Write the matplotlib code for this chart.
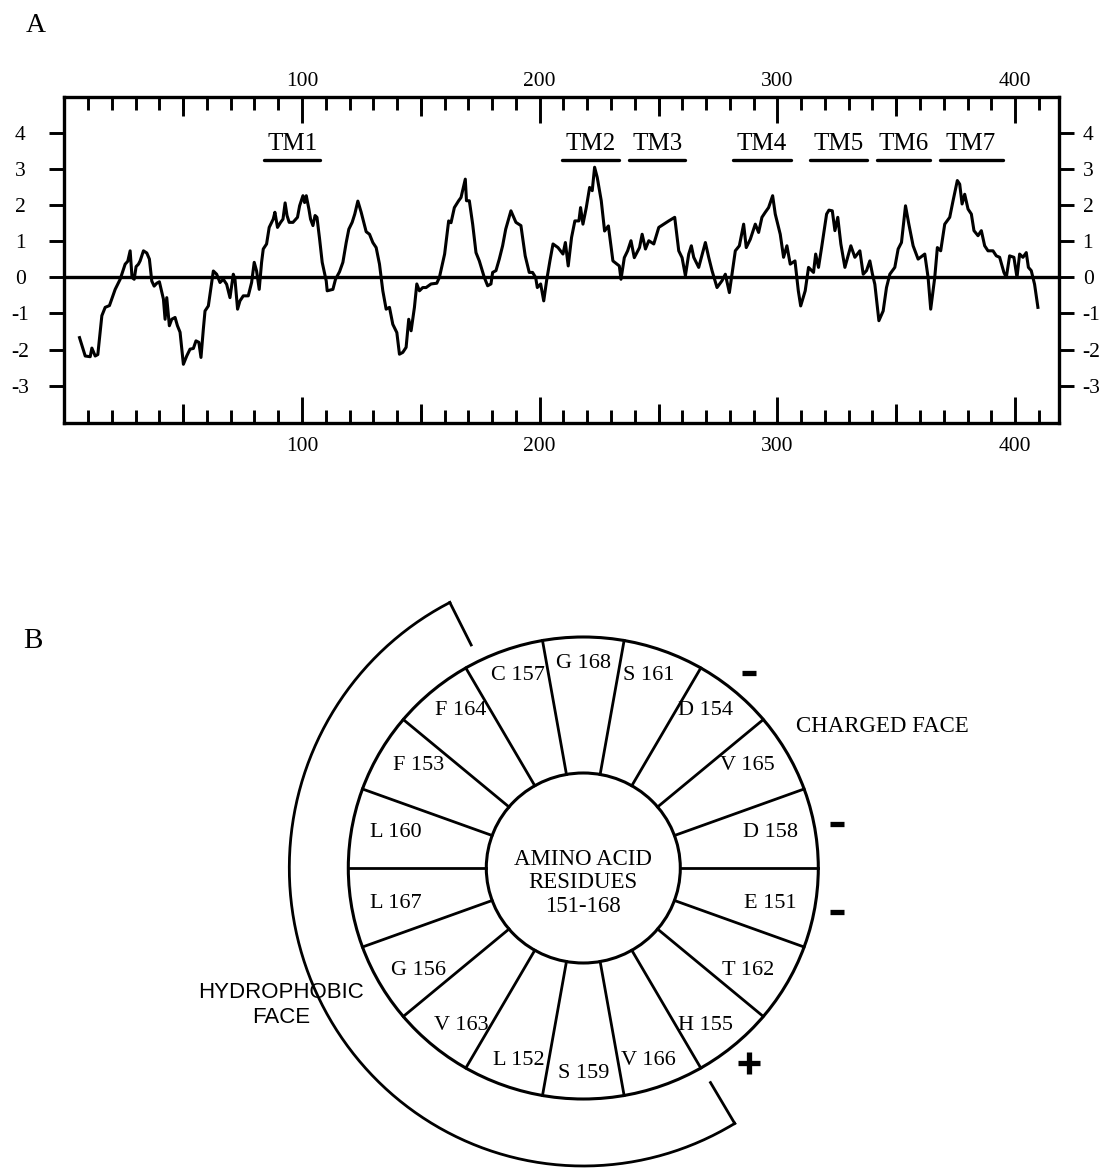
import numpy as np
import matplotlib
matplotlib.use("Agg")
import matplotlib.pyplot as plt
from matplotlib.patches import Ellipse

plt.rcParams['font.family'] = ['Liberation Serif', 'DejaVu Serif']
plt.rcParams['axes.unicode_minus'] = False

# hydropathy profile (residue position, mean hydropathy)
res_pos = [6.4, 8.8, 10.9, 11.6, 13.0, 14.1, 15.8, 17.2, 19.0, 21.4, 23.5, 25.6, 26.7, 27.7,
           28.5, 29.4, 30.2, 31.2, 31.9, 33.3, 34.7, 35.8, 36.8, 37.8, 38.9, 40.0, 41.7, 42.4,
           43.1, 44.2, 45.2, 46.6, 47.6, 48.7, 50.1, 51.5, 52.9, 54.3, 55.4, 56.6, 57.5, 58.5,
           59.2, 60.6, 62.7, 64.1, 65.5, 66.9, 68.3, 69.7, 71.1, 71.8, 72.9, 73.9, 75.3, 77.4,
           78.8, 79.9, 80.9, 82.0, 83.0, 83.7, 85.1, 86.2, 87.9, 88.6, 89.7, 91.0, 92.0, 92.9,
           93.7, 94.6, 96.2, 98.1, 99.0, 100.4, 101.1, 101.8, 102.9, 103.6, 104.6, 105.5, 106.3,
           107.4, 108.5, 110.2, 110.6, 113.0, 114.1, 115.8, 117.2, 118.6, 119.7, 121.1, 122.2,
           123.5, 124.9, 127.0, 128.4, 129.8, 131.2, 132.6, 134.0, 135.4, 136.8, 138.2, 139.9,
           141.0, 142.4, 143.8, 144.9, 145.9, 147.3, 148.3, 149.4, 150.8, 152.2, 154.3, 156.7,
           157.8, 160.0, 161.7, 162.7, 164.1, 165.9, 166.9, 168.7, 169.2, 170.4, 171.8, 173.2,
           174.6, 176.7, 178.1, 179.5, 180.2, 181.6, 183.0, 184.4, 185.7, 187.9, 190.0, 192.1,
           193.9, 195.6, 197.0, 198.3, 199.0, 200.4, 201.7, 202.9, 204.3, 205.6, 207.7, 209.8,
           210.8, 212.0, 213.4, 214.8, 216.5, 217.2, 218.2, 219.6, 221.0, 222.1, 223.1, 224.2,
           225.9, 227.3, 228.9, 230.8, 233.5, 234.2, 235.6, 237.0, 238.4, 239.8, 242.0, 243.1,
           244.5, 245.9, 248.0, 250.1, 252.2, 254.3, 256.8, 258.5, 259.9, 261.3, 262.7, 263.8,
           264.8, 266.9, 269.7, 271.1, 272.5, 274.6, 276.7, 278.1, 279.8, 280.9, 282.3, 284.0,
           285.8, 286.9, 288.6, 290.7, 292.1, 293.5, 294.9, 296.3, 298.0, 299.1, 301.2, 302.6,
           304.0, 305.4, 307.4, 308.8, 309.8, 311.7, 313.1, 315.2, 316.1, 317.3, 318.6, 320.7,
           321.7, 323.1, 324.2, 325.4, 326.7, 328.4, 330.9, 332.6, 334.7, 336.1, 337.5, 338.9,
           340.0, 341.0, 342.7, 344.5, 345.9, 347.3, 349.4, 350.8, 352.2, 353.9, 355.3, 357.1,
           359.2, 362.0, 363.4, 364.5, 366.2, 367.3, 368.7, 370.4, 372.5, 373.9, 375.7, 376.7,
           377.7, 378.8, 380.2, 381.6, 382.7, 384.4, 385.8, 387.2, 388.6, 390.7, 392.1, 393.5,
           395.3, 396.3, 397.7, 399.5, 400.8, 401.9, 403.3, 404.7, 405.6, 406.8, 408.2, 409.6]
hydropathy = [-1.67, -2.18, -2.20, -1.96, -2.18, -2.14, -1.06, -0.83, -0.78, -0.33, -0.05, 0.37,
              0.45, 0.74, 0.00, -0.05, 0.30, 0.37, 0.46, 0.74, 0.68, 0.51, -0.10, -0.24, -0.16,
              -0.12, -0.60, -1.16, -0.56, -1.34, -1.16, -1.11, -1.34, -1.52, -2.41, -2.18, -1.99,
              -1.97, -1.76, -1.80, -2.22, -1.43, -0.93, -0.79, 0.18, 0.09, -0.14, -0.05, -0.19,
              -0.56, 0.09, -0.05, -0.88, -0.65, -0.51, -0.51, -0.14, 0.42, 0.18, -0.33, 0.42,
              0.79, 0.93, 1.39, 1.62, 1.81, 1.39, 1.53, 1.62, 2.07, 1.72, 1.53, 1.53, 1.67, 1.99,
              2.27, 2.08, 2.27, 1.90, 1.62, 1.44, 1.72, 1.67, 1.07, 0.42, -0.10, -0.37, -0.33,
              -0.05, 0.16, 0.42, 0.97, 1.34, 1.53, 1.76, 2.12, 1.81, 1.27, 1.20, 0.97, 0.83, 0.37,
              -0.37, -0.88, -0.83, -1.30, -1.53, -2.13, -2.08, -1.94, -1.16, -1.48, -0.83, -0.18,
              -0.37, -0.28, -0.28, -0.18, -0.16, 0.00, 0.65, 1.57, 1.52, 1.94, 2.13, 2.22, 2.73,
              2.13, 2.13, 1.48, 0.69, 0.46, 0.00, -0.23, -0.18, 0.14, 0.19, 0.51, 0.88, 1.34,
              1.85, 1.53, 1.44, 0.60, 0.14, 0.14, 0.00, -0.28, -0.18, -0.65, -0.09, 0.46, 0.93,
              0.83, 0.65, 0.97, 0.32, 1.11, 1.57, 1.57, 1.94, 1.48, 1.94, 2.50, 2.41, 3.06, 2.78,
              2.13, 1.29, 1.43, 0.46, 0.32, -0.05, 0.55, 0.74, 1.02, 0.55, 0.83, 1.20, 0.79, 1.02,
              0.93, 1.39, 1.48, 1.57, 1.67, 0.74, 0.55, 0.05, 0.65, 0.88, 0.56, 0.28, 0.97, 0.56,
              0.19, -0.28, -0.09, 0.09, -0.42, 0.09, 0.74, 0.88, 1.48, 0.83, 1.06, 1.48, 1.25,
              1.67, 1.81, 1.94, 2.27, 1.76, 1.20, 0.56, 0.88, 0.37, 0.46, -0.37, -0.79, -0.37,
              0.28, 0.14, 0.65, 0.28, 0.83, 1.76, 1.87, 1.85, 1.30, 1.67, 0.93, 0.28, 0.88, 0.56,
              0.74, 0.09, 0.19, 0.46, 0.09, -0.19, -1.20, -0.93, -0.28, 0.09, 0.28, 0.79, 0.97,
              1.99, 1.48, 0.88, 0.51, 0.65, 0.00, -0.88, 0.00, 0.83, 0.74, 1.48, 1.67, 2.13, 2.69,
              2.59, 2.04, 2.31, 1.90, 1.76, 1.30, 1.16, 1.30, 0.88, 0.74, 0.74, 0.60, 0.56, 0.14,
              0.00, 0.60, 0.56, 0.00, 0.65, 0.56, 0.69, 0.28, 0.19, -0.19, -0.83]

# transmembrane segments
tm_names = ['TM1', 'TM2', 'TM3', 'TM4', 'TM5', 'TM6', 'TM7']
tm_start = [84.2, 209.3, 237.7, 281.5, 313.8, 341.9, 368.2]
tm_end = [107.6, 233.5, 261.2, 305.6, 337.7, 364.0, 394.8]
tm_level = 3.26

x_major = [100, 200, 300, 400]
x_mid = [50, 150, 250, 350]
y_ticks = [-3, -2, -1, 0, 1, 2, 3, 4]
y_labels = ['-3', '-2', '-1', '0', '1', '2', '3', '4']

# helical wheel, residues 151-168
residue_letters = ['E', 'L', 'F', 'D', 'H', 'G', 'C', 'D', 'S',
                   'L', 'S', 'T', 'V', 'F', 'V', 'V', 'L', 'G']
residue_numbers = list(range(151, 169))
charge_marks = {'D': '_', 'E': '_', 'H': '+'}

W, H = 1104, 1168
fig = plt.figure(figsize=(W / 100, H / 100), dpi=100)

# ---------------- panel A: hydropathy plot ----------------
ax = fig.add_axes([64.3 / W, 1 - 423 / H, 995 / W, 326 / H])
ax.plot(res_pos, hydropathy, color='black', lw=2.2, solid_joinstyle='round')
ax.axhline(0, color='black', lw=2.4)
for name, s, e in zip(tm_names, tm_start, tm_end):
    ax.plot([s, e], [tm_level, tm_level], color='black', lw=2.4, solid_capstyle='round')
    ax.text((s + e) / 2, tm_level + 0.27, name, ha='center', va='baseline', fontsize=18)

ax.set_xlim(0, 418.6)
ax.set_ylim(-4.04, 5.01)
for sp in ax.spines.values():
    sp.set_linewidth(2.4)

ax.set_xticks(x_major)
ax.set_xticklabels([str(v) for v in x_major])
ax.set_xticks(np.arange(10, 411, 10), minor=True)
ax.tick_params(axis='x', which='major', direction='in', top=True, bottom=True,
               labeltop=False, length=18.5, width=2.1, pad=10, labelsize=15.5)
ax.tick_params(axis='x', which='minor', direction='in', top=True, bottom=True,
               length=9.4, width=2.1)

ax.set_yticks(y_ticks)
ax.set_yticklabels(y_labels)
ax.tick_params(axis='y', direction='out', left=True, right=False, length=10.8,
               width=2.1, pad=21, labelsize=15.5)
for lab in ax.get_yticklabels():
    lab.set_horizontalalignment('center')

# top labels sit closer to the frame than the bottom ones
top = ax.secondary_xaxis('top')
top.set_xticks(x_major)
top.set_xticklabels([str(v) for v in x_major])
top.tick_params(length=0, pad=4, labelsize=15.5)

for loc in ['top', 'bottom']:
    mid = ax.secondary_xaxis(loc)
    mid.set_xticks(x_mid)
    mid.set_xticklabels([])
    mid.tick_params(direction='in', length=13.7, width=2.1)

right = ax.secondary_yaxis('right')
right.set_yticks(y_ticks)
right.set_yticklabels(y_labels)
right.tick_params(direction='out', length=10.8, width=2.1, pad=6, labelsize=15.5)

for sec in [top, right]:
    for sp in sec.spines.values():
        sp.set_visible(False)

fig.text(35.5 / W, 1 - 25.5 / H, 'A', ha='center', va='center', fontsize=20)

# ---------------- panel B: helical wheel ----------------
axb = fig.add_axes([0, 0, 1, 1], zorder=-1)
axb.set_xlim(0, W)
axb.set_ylim(H, 0)
axb.axis('off')

cx, cy = 583.3, 868.0
outer_r = (235, 231)
inner_r = (97, 95)
label_r = (190, 205)
sign_r = (258, 255)
arc_r = (294, 298)


def ring_xy(angle, radii):
    a = np.deg2rad(angle)
    return cx + radii[0] * np.cos(a), cy - radii[1] * np.sin(a)


axb.add_patch(Ellipse((cx, cy), 2 * outer_r[0], 2 * outer_r[1], fill=False, lw=2.2, color='black'))
axb.add_patch(Ellipse((cx, cy), 2 * inner_r[0], 2 * inner_r[1], fill=False, lw=2.2, color='black'))

for a in range(0, 360, 20):
    x0, y0 = ring_xy(a, inner_r)
    x1, y1 = ring_xy(a, outer_r)
    axb.plot([x0, x1], [y0, y1], color='black', lw=2.0)

for letter, num in zip(residue_letters, residue_numbers):
    theta = -10 - 100 * (num - 151)
    x, y = ring_xy(theta, label_r)
    axb.text(x, y, f'{letter} {num}', ha='center', va='center', fontsize=16)
    if letter in charge_marks:
        sx, sy = ring_xy(theta, sign_r)
        mark = charge_marks[letter]
        axb.plot(sx, sy, marker=mark, color='black', mew=3.8,
                 ms=10.5 if mark == '_' else 16)

axb.text(cx, cy + 15, 'AMINO ACID\nRESIDUES\n151-168', ha='center', va='center',
         fontsize=16.5, linespacing=1.15)

# bracket around the hydrophobic face
t = np.linspace(117, 301, 300)
ax_x, ax_y = ring_xy(t, arc_r)
axb.plot(ax_x, ax_y, color='black', lw=2.0)
for end in [117, 301]:
    ex0, ey0 = ring_xy(end, arc_r)
    ex1, ey1 = ring_xy(end, (arc_r[0] * 0.84, arc_r[1] * 0.84))
    axb.plot([ex0, ex1], [ey0, ey1], color='black', lw=2.0)

axb.text(882, 726, 'CHARGED FACE', ha='center', va='center', fontsize=16.5)
axb.text(281, 1005, 'HYDROPHOBIC\nFACE', ha='center', va='center', fontsize=16,
         linespacing=1.25, family=['Liberation Sans', 'DejaVu Sans'])
fig.text(33.3 / W, 1 - 641.3 / H, 'B', ha='center', va='center', fontsize=21)

fig.savefig('out.png', dpi=100, facecolor='white')
